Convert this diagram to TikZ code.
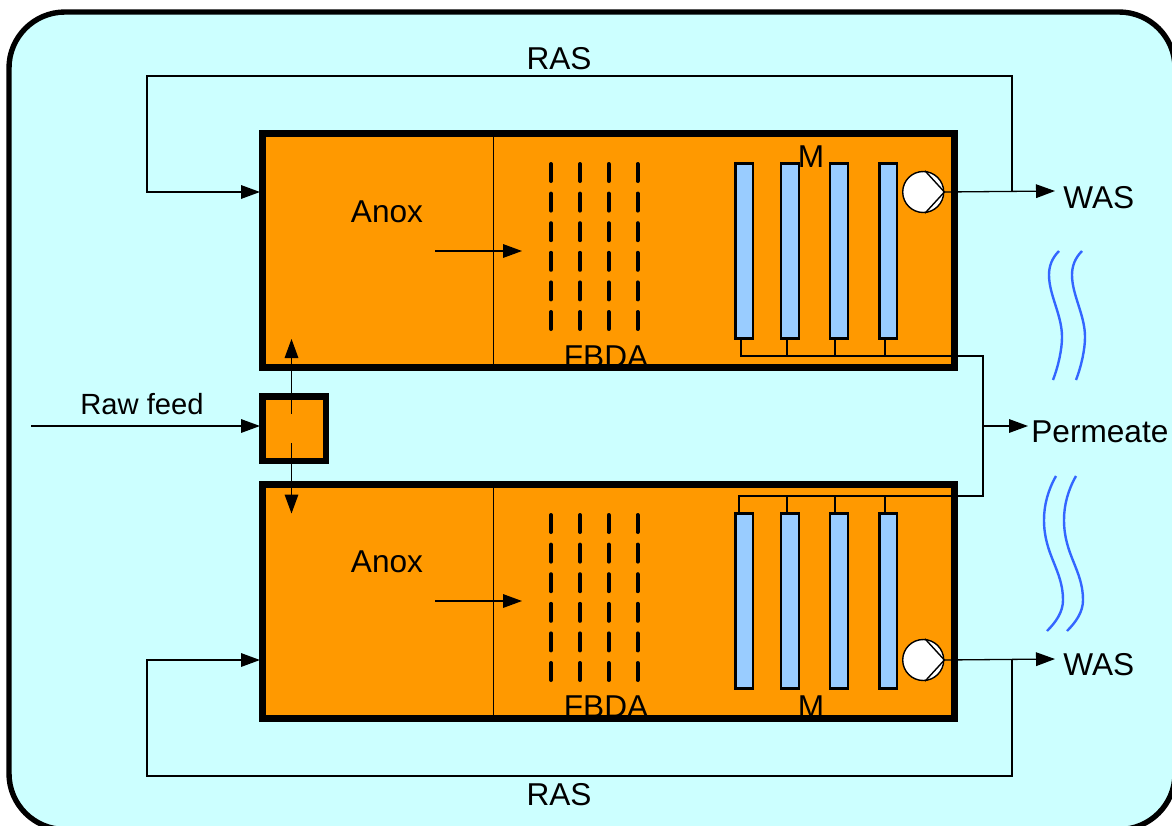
\documentclass[tikz,border=0pt]{standalone}
\usepackage{fontspec}
\setmainfont{Liberation Sans}
\usetikzlibrary{arrows.meta,positioning,calc}
\definecolor{wwBack}{HTML}{CCFFFF}
\definecolor{wwTank}{HTML}{FF9900}
\definecolor{wwMem}{HTML}{99CCFF}
\definecolor{wwWave}{HTML}{3366FF}
\tikzset{
  tank/.style={draw, line width=3.3pt, fill=wwTank, minimum width=346pt, minimum height=117pt, inner sep=0pt},
  splitter/.style={draw, line width=3.3pt, fill=wwTank, minimum width=31.7pt, minimum height=32.2pt, inner sep=0pt},
  membrane/.style={draw, line width=1.1pt, fill=wwMem, minimum width=8.75pt, minimum height=87.5pt, inner sep=0pt},
  pumpnode/.style={draw, circle, line width=0.7pt, fill=white, minimum size=20.5pt, inner sep=0pt},
  label/.style={font=\fontsize{15.8}{18}\selectfont, inner sep=0pt},
  flow/.style={-{Triangle[length=9.5pt, width=6.8pt]}, line width=0.65pt},
  pipe/.style={line width=0.65pt},
  baffle/.style={line width=2pt, line cap=round, dash pattern=on 8.5pt off 6.3pt},
  wave/.style={line width=1.2pt, wwWave}
}
\begin{document}
\begin{tikzpicture}[x=0.5pt, y=-0.5pt]
  \useasboundingbox (0,0) rectangle (1172,825);
  % outer frame
  \draw[line width=2.7pt, fill=wwBack, rounded corners=28pt] (9,12) rectangle (1175,829.5);
  % tanks
  \node[tank] (tankA) at (608.5,250.5) {};
  \node[tank] (tankB) at (608.5,601.5) {};
  \node[splitter] (split) at (294.3,428.8) {};
  \draw[pipe] (tankA.north -| 493.5,0) -- (tankA.south -| 493.5,0);
  \draw[pipe] (tankB.north -| 493.5,0) -- (tankB.south -| 493.5,0);
  % baffles and membranes
  \foreach \xb in {551,580,608.7,637.5} {
    \draw[baffle] (\xb,164) -- (\xb,329);
    \draw[baffle] (\xb,515) -- (\xb,680);
  }
  \foreach \xm/\n in {744.3/1,790/2,839/3,888.3/4} {
    \node[membrane] (memA\n) at (\xm,251) {};
    \node[membrane] (memB\n) at (\xm,601) {};
  }
  % pumps
  \node[pumpnode] (pumpA) at (923.2,192) {};
  \node[pumpnode] (pumpB) at (923.2,660) {};
  \foreach \p in {pumpA,pumpB} {
    \draw[line width=0.7pt] (\p.85) -- (\p.east) -- (\p.-85);
  }
  % labels
  \node[label] (anoxA) at (387,212) {Anox};
  \node[label] (anoxB) at (387,562) {Anox};
  \node[label] (fbdaA) at (606,357) {FBDA};
  \node[label] (fbdaB) at (606,707) {FBDA};
  \node[label] (memlA) at (811,157) {M};
  \node[label] (memlB) at (811,707) {M};
  \node[label] (rasA) at (559,59) {RAS};
  \node[label] (rasB) at (559,795) {RAS};
  \node[label, anchor=west] (wasA) at (1063,198) {WAS};
  \node[label, anchor=west] (wasB) at (1063,665) {WAS};
  \node[label, anchor=west] (perm) at (1031,432) {Permeate};
  \node[label, font=\fontsize{14.6}{17}\selectfont] (feed) at (142,404) {Raw feed};
  % free ends
  \coordinate (wasAend) at (1055,191);
  \coordinate (wasBend) at (1055,659);
  \coordinate (rasAtap) at (1012,191);
  \coordinate (rasBtap) at (1012,660);
  \coordinate (feedin) at (31,426);
  \coordinate (permend) at (1028,426);
  \coordinate (permtap) at (983,426);
  \coordinate (hdrA) at (983,356);
  \coordinate (hdrB) at (983,496);
  % main flows
  \draw[flow] (pumpA.east) -- (wasAend);
  \draw[flow] (pumpB.east) -- (wasBend);
  \draw[flow] (rasAtap) -- (1012,76) -- (147,76) -- (147,192) -- (260,192);
  \draw[flow] (rasBtap) -- (1012,776) -- (147,776) -- (147,660) -- (260,660);
  \draw[flow] (feedin) -- (260,426);
  \draw[flow] (permtap) -- (permend);
  \draw[flow] (291.5,414) -- (291.5,339);
  \draw[flow] (291.5,443) -- (291.5,513.5);
  \draw[flow] (435,251) -- (522,251);
  \draw[flow] (435,601) -- (522,601);
  % permeate headers
  \draw[pipe] ([xshift=-1.6pt]memA1.south) |- (hdrA) -- (hdrB) -| ([xshift=-2.6pt]memB1.north);
  \foreach \sh/\n in {-1.5/2,-2/3,-1.6/4} {
    \draw[pipe] ([xshift=\sh pt]memA\n.south) -- ++(0,17);
    \draw[pipe] ([xshift=\sh pt]memB\n.north) -- ++(0,-17);
  }
  % waves
  \foreach \dx in {0,23} {
    \begin{scope}[xshift=\dx*0.5pt]
      \draw[wave] (1059,251) .. controls (1052,258) and (1049,266) .. (1049,275)
        .. controls (1049,295) and (1062,315) .. (1062,337)
        .. controls (1062,350) and (1058,367) .. (1053,380);
    \end{scope}
  }
  \foreach \dx in {0,20} {
    \begin{scope}[xshift=\dx*0.5pt]
      \draw[wave] (1056,476) .. controls (1048,490) and (1044,505) .. (1044,520)
        .. controls (1044,555) and (1063,570) .. (1063,600)
        .. controls (1063,612) and (1056,622) .. (1047,631);
    \end{scope}
  }
\end{tikzpicture}
\end{document}
